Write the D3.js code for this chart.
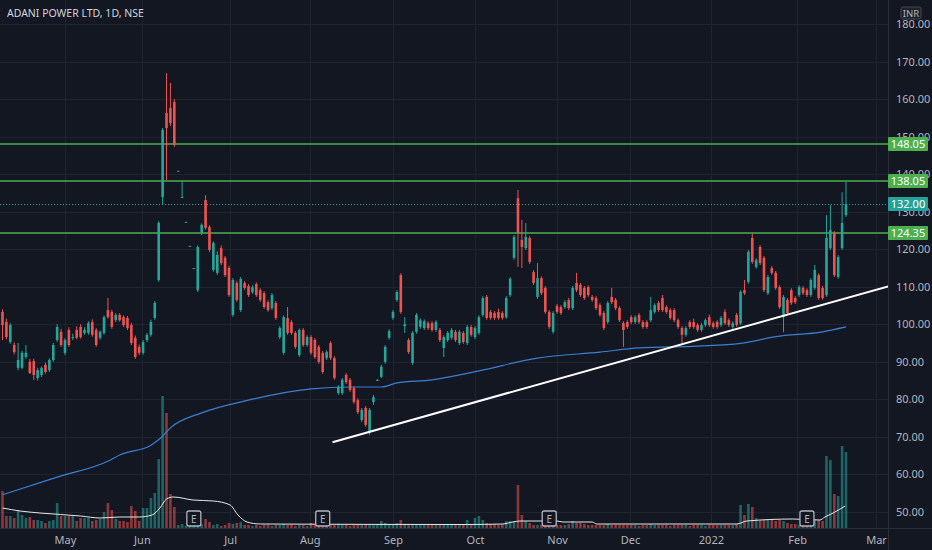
<!DOCTYPE html>
<html>
<head>
<meta charset="utf-8">
<script src="https://cdn.jsdelivr.net/npm/d3@7"></script>
<style>
  html, body { margin: 0; padding: 0; background: #131722; }
  svg { display: block; font-family: "Noto Sans", sans-serif; }
</style>
</head>
<body>
<svg id="chart" width="932" height="550"></svg>
<script>
// Tageskerzen [open, high, low, close]
const ohlc = [
  [103.3,104.0,95.8,99.8],[100.6,101.5,96.0,96.6],[95.3,100.3,94.8,99.8],[94.5,95.2,92.0,92.6],
  [88.4,95.0,87.8,90.5],[88.4,92.9,88.0,92.4],[91.3,94.5,90.8,92.4],[90.0,90.8,86.8,87.0],
  [90.2,90.8,85.2,86.5],[85.7,88.4,85.0,87.8],[86.5,88.8,86.0,88.4],[89.2,89.8,86.9,87.3],
  [87.8,90.9,87.3,90.5],[90.5,95.0,90.0,94.5],[95.8,100.0,95.3,99.3],[98.0,98.8,94.0,94.5],
  [92.4,96.3,91.8,95.8],[98.5,99.2,94.0,94.5],[96.4,97.5,95.8,96.6],[98.5,99.5,96.0,96.4],
  [99.3,100.0,96.2,96.6],[97.7,99.2,97.2,98.5],[97.7,100.8,97.2,100.3],[100.6,101.3,96.7,97.2],
  [98.5,99.0,94.0,94.5],[96.4,98.4,95.9,98.0],[97.7,102.4,97.2,101.9],[103.8,107.0,101.5,101.9],
  [103.3,103.9,98.8,99.3],[101.1,103.0,100.6,102.5],[102.5,103.0,100.7,101.1],[101.9,102.4,99.3,99.8],
  [101.7,102.2,98.5,99.0],[99.8,100.4,94.5,95.0],[96.4,97.0,90.8,91.3],[94.0,94.6,91.8,92.4],
  [92.4,95.8,91.9,95.3],[95.8,97.7,95.3,97.2],[97.2,101.2,96.7,100.6],[101.7,106.2,101.2,105.7],
  [111.8,127.5,111.3,127.0],[133.9,152.3,131.8,151.8],[156.3,166.9,138.4,152.3],[157.6,164.3,152.8,153.6],
  [159.2,160.0,147.2,147.8],[140.9,140.9,140.9,140.9],[133.9,137.9,133.9,133.9],[127.3,127.3,127.3,127.3],
  [120.9,120.9,120.9,120.9],[115.0,115.0,115.0,115.0],[109.1,121.0,108.6,120.6],[124.3,126.9,123.8,126.5],
  [133.1,134.4,125.2,125.7],[125.9,126.4,119.3,119.8],[114.5,122.1,114.0,121.7],[113.7,119.5,113.2,118.5],
  [120.3,121.0,115.8,116.3],[117.7,118.2,112.6,113.1],[115.0,115.6,107.3,107.8],[102.5,112.3,102.0,111.8],
  [111.0,111.6,106.0,106.5],[103.8,112.6,103.3,112.1],[111.0,111.5,109.2,109.7],[110.2,110.7,107.3,107.8],
  [108.6,110.4,108.1,109.9],[110.7,111.2,107.3,107.8],[109.1,109.6,106.0,106.5],[108.3,108.8,104.1,104.6],
  [105.9,106.4,103.3,103.8],[104.3,108.3,103.8,107.8],[105.7,106.2,101.2,101.7],[96.6,99.5,96.1,99.0],
  [92.4,102.4,91.9,101.9],[101.7,104.6,97.2,97.7],[100.6,101.1,97.2,97.7],[97.7,98.2,93.5,94.0],
  [91.8,98.9,91.3,98.5],[98.5,99.0,94.0,94.5],[94.5,97.1,94.0,96.6],[96.6,97.1,91.9,92.4],
  [95.8,96.3,90.8,91.3],[94.0,94.5,89.5,90.0],[92.4,92.9,86.8,87.3],[91.0,93.1,90.5,92.6],
  [95.0,95.5,90.5,91.0],[91.0,91.5,85.2,85.7],[81.7,83.8,81.2,83.3],[81.7,85.7,81.2,85.2],
  [86.5,87.0,84.1,84.6],[85.2,85.7,82.0,82.5],[83.0,83.5,78.8,79.3],[79.8,80.3,76.1,76.6],
  [74.5,77.7,74.0,77.2],[77.7,78.2,72.7,73.2],[71.3,77.7,70.5,77.2],[79.3,81.2,78.5,80.6],
  [85.2,85.4,85.0,85.2],[86.0,89.2,85.7,88.7],[90.0,94.5,89.5,94.0],[96.4,98.7,95.9,98.2],
  [101.7,103.8,101.2,103.3],[106.5,109.1,106.0,108.6],[113.1,113.6,102.8,103.3],[99.5,101.9,97.7,100.0],
  [95.8,96.3,92.1,92.6],[89.7,98.2,89.2,97.7],[98.0,103.0,97.5,102.5],[99.3,101.6,98.8,101.1],
  [99.0,101.3,98.5,100.8],[100.3,100.8,98.5,99.0],[100.3,100.8,98.0,98.5],[98.5,101.1,98.0,100.6],
  [98.5,99.0,95.3,95.8],[93.7,97.1,91.3,96.6],[95.8,98.2,95.3,97.7],[96.4,99.0,95.9,98.5],
  [98.0,98.5,95.3,95.8],[95.0,98.5,94.5,98.0],[97.7,98.2,94.8,95.3],[95.0,99.8,94.5,99.3],
  [99.3,99.8,96.7,97.2],[96.6,99.5,96.1,99.0],[97.7,102.4,97.2,101.9],[102.5,107.5,102.0,107.0],
  [107.3,107.8,101.2,101.7],[103.3,103.8,101.2,101.7],[103.0,103.5,101.2,101.7],[103.3,104.2,101.2,101.7],
  [103.0,103.5,101.2,101.7],[101.9,107.5,101.4,107.0],[107.8,112.6,107.3,112.1],[117.7,123.8,117.2,123.3],
  [133.6,135.8,115.3,124.3],[122.5,127.8,115.0,120.6],[120.3,127.0,119.8,123.3],[123.0,123.5,116.1,116.6],
  [113.9,114.4,110.5,111.0],[107.3,116.3,106.8,112.3],[112.3,112.8,107.8,108.3],[109.7,110.2,102.8,103.3],
  [103.3,103.8,98.8,99.3],[98.0,103.5,97.5,103.0],[104.9,105.4,102.8,103.3],[104.6,105.1,102.5,103.0],
  [104.6,106.4,104.1,105.9],[106.5,107.0,103.8,104.3],[104.3,110.2,103.8,109.7],[111.0,113.7,108.6,109.1],
  [110.5,111.0,107.3,107.8],[109.7,110.2,106.5,107.0],[109.9,110.4,107.3,107.8],[107.3,107.8,106.0,106.5],
  [107.0,107.5,103.8,104.3],[105.1,105.6,102.0,102.5],[103.0,103.5,98.5,99.0],[100.6,106.2,100.1,105.7],
  [107.3,109.7,105.4,105.9],[106.5,107.0,103.8,104.3],[104.3,104.8,100.6,101.1],[100.3,100.8,94.0,98.5],
  [100.6,101.1,98.8,99.3],[101.9,102.4,100.1,100.6],[100.6,102.4,100.1,101.9],[102.5,103.0,100.1,100.6],
  [100.6,101.1,98.8,99.3],[100.6,101.1,98.8,99.3],[101.1,107.3,100.6,103.8],[103.3,105.6,102.8,105.1],
  [105.7,106.2,103.3,103.8],[107.0,107.8,103.3,103.8],[104.6,105.1,102.8,103.3],[103.8,104.3,101.2,101.7],
  [103.8,104.3,100.6,101.1],[101.1,101.6,98.8,99.3],[99.0,99.5,95.0,97.2],[97.2,99.5,96.7,99.0],
  [100.6,101.1,98.8,99.3],[100.6,101.5,98.8,99.3],[99.8,100.3,98.0,98.5],[98.5,100.3,98.0,99.8],
  [99.8,101.6,99.3,101.1],[101.9,102.6,99.3,99.8],[100.3,100.8,98.8,99.3],[100.6,101.1,98.8,99.3],
  [99.8,102.2,99.3,101.7],[103.3,104.0,99.8,100.3],[101.1,101.6,99.3,99.8],[99.3,100.8,98.8,100.3],
  [102.5,103.0,99.3,99.8],[100.3,109.1,99.8,108.6],[109.1,111.8,107.8,108.3],[111.3,119.8,110.8,119.3],
  [123.0,124.3,116.1,116.6],[115.3,117.6,114.8,117.1],[120.6,121.1,115.8,116.3],[117.7,118.2,108.6,109.1],
  [108.3,113.1,107.8,112.6],[115.0,115.5,113.2,113.7],[113.7,114.2,109.2,109.7],[109.9,110.4,104.1,104.6],
  [101.9,107.8,97.9,107.3],[106.5,107.0,102.5,103.0],[109.1,109.6,105.2,105.7],[107.0,107.5,105.4,105.9],
  [107.8,110.4,107.3,109.9],[109.7,110.2,107.8,108.3],[109.1,109.6,107.3,107.8],[107.8,112.3,107.3,111.8],
  [109.7,115.8,109.2,114.5],[113.1,113.6,106.5,107.0],[109.7,110.2,106.5,107.0],[107.8,129.1,107.3,123.0],
  [120.3,131.8,119.8,125.1],[124.3,124.8,112.6,113.1],[112.6,118.4,112.1,117.9],[120.3,135.2,119.8,127.0],
  [129.1,138.0,128.6,132.0]
];

// Volumen (relative Einheiten)
const volume = [
  37,12,12,10,18,13,10,11,8,8,7,5,7,8,25,12,12,12,12,7,10,10,10,7,8,9,16,25,18,9,7,7,6,22,17,7,
  20,20,30,35,69,132,115,34,21,3,4,2,2,3,6,4,9,6,3,4,2,3,5,4,5,6,
  3,3,2,3,2,3,3,2,3,3,4,3,3,2,3,3,2,5,
  3,3,2,3,3,3,4,3,3,2,3,3,3,4,3,3,4,
  7,5,4,4,5,8,4,3,4,3,3,3,3,3,3,3,4,3,3,3,4,3,8,3,10,12,8,5,4,4,3,4,7,7,7,43,13,7,5,
  3,3,3,4,3,3,3,3,3,4,7,5,5,4,3,3,3,3,3,4,3,3,3,3,3,
  3,3,2,3,3,4,3,3,3,3,2,3,3,3,3,2,3,3,3,2,3,3,3,3,3,3,3,4,
  23,13,24,21,10,8,8,8,8,7,8,7,5,4,4,3,3,3,3,8,8,7,72,68,34,32,82,76
];

// Gleitender Durchschnitt (blau) als [Kerzenindex, Kurs]
const maPoints = [
  [0,54.6],[14,59.3],[27.5,63.8],[30,65.2],[38,67.8],[40.5,69.7],[43,72.4],[51,76.4],[63,79.8],
  [79,82.8],[89,83.3],[97,83.3],[101,84.4],[110,85.2],[122,87.6],[137,91.0],[153,92.6],[163,93.7],
  [178,94.2],[189,94.9],[198,96.7],[210,98.0],[216,99.3]
];

// Volumen-MA (weiss) als [Kerzenindex, Volumen]
const volMaPoints = [
  [0,20],[4.5,17],[9.6,15],[20,12],[25,10],[30,11],[35,11],[38.3,13],[40.3,20],[42,29],[43.7,31],
  [48.8,28],[54,27],[58.3,23],[60.3,13],[62.6,6],[66,4],[119,3.5],[128,4],[130.7,6],[132.5,7],
  [142,7],[143.5,6],[151,6],[152.2,4],[188,4],[190.6,7],[202.4,9],[209.3,8],[210.6,11],[212.7,15],[215.8,22]
];

// Trendlinie [Kerzenindex, Kurs]
const trendLine = [[84.5,68.6],[226.8,110.1]];

// horizontale Marken
const levels = [148.05, 138.05, 124.35];
const lastPrice = 132.00;

const priceTicks = [50,60,70,80,90,100,110,120,130,140,150,160,170,180];
const monthTicks = [
  { i: 16, label: "May" }, { i: 35.7, label: "Jun" }, { i: 58.3, label: "Jul" },
  { i: 78.7, label: "Aug" }, { i: 100, label: "Sep" }, { i: 121, label: "Oct" },
  { i: 142, label: "Nov" }, { i: 160.7, label: "Dec" }, { i: 181.4, label: "2022" },
  { i: 203.5, label: "Feb" }, { i: 223.7, label: "Mar" }
];
const earnings = [49, 82, 140, 206];

const title = "ADANI POWER LTD, 1D, NSE";

// --------------------------------------------------------
const W = 932, H = 550;
const plotRight = 888, plotBottom = 528;
const upColor = "#26a69a", downColor = "#ef5350", levelColor = "#4caf50";
const gridColor = "#1f2330", textColor = "#b2b5be";

const svg = d3.select("#chart");

svg.append("rect")
  .attr("width", W).attr("height", H)
  .attr("fill", "#131722");

const x = d3.scaleLinear().domain([0, ohlc.length - 1]).range([2.5, 846]);
const y = d3.scaleLinear().domain([50, 180]).range([512, 24]);
const yVol = d3.scaleLinear().domain([0, d3.max(volume)]).range([plotBottom, 396]);

// scharfe 1px-Linien
const crisp = v => Math.round(v) + 0.5;

svg.append("clipPath").attr("id", "plot-clip")
  .append("rect").attr("width", plotRight).attr("height", plotBottom);

const plot = svg.append("g").attr("clip-path", "url(#plot-clip)");

// Raster
plot.append("g").selectAll("line")
  .data(priceTicks)
  .enter().append("line")
    .attr("x1", 0).attr("x2", plotRight)
    .attr("y1", d => crisp(y(d))).attr("y2", d => crisp(y(d)))
    .attr("stroke", gridColor).attr("stroke-width", 1);

plot.append("g").selectAll("line")
  .data(monthTicks)
  .enter().append("line")
    .attr("x1", d => crisp(x(d.i))).attr("x2", d => crisp(x(d.i)))
    .attr("y1", 0).attr("y2", plotBottom)
    .attr("stroke", gridColor).attr("stroke-width", 1);

const isUp = d => d[3] >= d[0];

// Volumen
const bw = 2.6;
plot.append("g").selectAll("rect")
  .data(volume)
  .enter().append("rect")
    .attr("x", (d, i) => x(i) - bw / 2)
    .attr("y", d => yVol(d))
    .attr("width", bw)
    .attr("height", d => plotBottom - yVol(d))
    .attr("fill", (d, i) => isUp(ohlc[i]) ? upColor : downColor)
    .attr("opacity", 0.55);

plot.append("path")
  .datum(volMaPoints)
  .attr("fill", "none")
  .attr("stroke", "#e8e8e8")
  .attr("stroke-width", 1)
  .attr("d", d3.line().x(d => x(d[0])).y(d => yVol(d[1])).curve(d3.curveMonotoneX));

// Level-Linien (etwas breiter, damit das Grün sichtbar bleibt)
plot.append("g").selectAll("line")
  .data(levels)
  .enter().append("line")
    .attr("x1", 0).attr("x2", plotRight)
    .attr("y1", d => Math.round(y(d))).attr("y2", d => Math.round(y(d)))
    .attr("stroke", levelColor).attr("stroke-width", 1.4);

plot.append("line")
  .attr("x1", 0).attr("x2", plotRight)
  .attr("y1", crisp(y(lastPrice))).attr("y2", crisp(y(lastPrice)))
  .attr("stroke", upColor).attr("stroke-width", 1)
  .attr("stroke-dasharray", "1,2");

// MA
plot.append("path")
  .datum(maPoints)
  .attr("fill", "none")
  .attr("stroke", "#3a7fd0")
  .attr("stroke-width", 1.2)
  .attr("d", d3.line().x(d => x(d[0])).y(d => y(d[1])).curve(d3.curveMonotoneX));

// Kerzen
const candles = plot.append("g").selectAll("g")
  .data(ohlc)
  .enter().append("g");

candles.append("line")
  .attr("x1", (d, i) => x(i)).attr("x2", (d, i) => x(i))
  .attr("y1", d => y(d[1])).attr("y2", d => y(d[2]))
  .attr("stroke", d => isUp(d) ? upColor : downColor)
  .attr("stroke-width", 1);

candles.append("rect")
  .attr("x", (d, i) => x(i) - bw / 2)
  .attr("y", d => y(Math.max(d[0], d[3])))
  .attr("width", bw)
  .attr("height", d => Math.max(1, Math.abs(y(d[0]) - y(d[3]))))
  .attr("fill", d => isUp(d) ? upColor : downColor);

// Trendlinie
plot.append("line")
  .attr("x1", x(trendLine[0][0])).attr("y1", y(trendLine[0][1]))
  .attr("x2", x(trendLine[1][0])).attr("y2", y(trendLine[1][1]))
  .attr("stroke", "#ffffff").attr("stroke-width", 2);

// Earnings-Marker
const eg = plot.append("g").selectAll("g")
  .data(earnings)
  .enter().append("g")
    .attr("transform", d => `translate(${x(d)},518.5)`);

eg.append("rect")
  .attr("x", -7).attr("y", -7.5)
  .attr("width", 14).attr("height", 15)
  .attr("rx", 2)
  .attr("fill", "#131722")
  .attr("stroke", textColor).attr("stroke-width", 1.3);

eg.append("text")
  .attr("text-anchor", "middle")
  .attr("y", 4)
  .attr("fill", textColor)
  .attr("font-size", "10px")
  .text("E");

// Trennlinien
svg.append("line")
  .attr("x1", plotRight + 0.5).attr("x2", plotRight + 0.5)
  .attr("y1", 0).attr("y2", H)
  .attr("stroke", "#2a2e39");
svg.append("line")
  .attr("x1", 0).attr("x2", W)
  .attr("y1", plotBottom + 0.5).attr("y2", plotBottom + 0.5)
  .attr("stroke", "#2a2e39");

// Preisachse (Labels unter den Preis-Boxen werden wie im Original verdeckt)
const yAxis = svg.append("g")
  .attr("transform", `translate(${plotRight + 8},0)`)
  .call(d3.axisRight(y).tickValues(priceTicks).tickFormat(d3.format(".2f")).tickSize(0));
yAxis.select(".domain").remove();
yAxis.selectAll("text")
  .attr("x", 0)
  .attr("fill", textColor)
  .attr("font-size", "11px")
  .attr("font-family", "Noto Sans, sans-serif");

// Zeitachse
const xAxis = svg.append("g")
  .attr("transform", `translate(0,${plotBottom})`)
  .call(d3.axisBottom(x).tickValues(monthTicks.map(d => d.i))
    .tickFormat((d, i) => monthTicks[i].label).tickSize(0));
xAxis.select(".domain").remove();
xAxis.selectAll("text")
  .attr("y", 8)
  .attr("fill", textColor)
  .attr("font-size", "11px")
  .attr("font-family", "Noto Sans, sans-serif");

// Preis-Labels
const labelData = levels.map(v => ({ v, color: levelColor }))
  .concat([{ v: lastPrice, color: "#22a39a" }]);

const lg = svg.append("g").selectAll("g")
  .data(labelData)
  .enter().append("g")
    .attr("transform", d => `translate(${plotRight},${Math.round(y(d.v))})`);

lg.append("rect")
  .attr("x", 0).attr("y", -7)
  .attr("width", 40).attr("height", 14)
  .attr("rx", 1)
  .attr("fill", d => d.color);

lg.append("text")
  .attr("x", 20).attr("y", 4)
  .attr("text-anchor", "middle")
  .attr("fill", "#ffffff")
  .attr("font-size", "11px")
  .text(d => d.v.toFixed(2));

// INR
svg.append("rect")
  .attr("x", 901).attr("y", 7)
  .attr("width", 20).attr("height", 12)
  .attr("rx", 2)
  .attr("fill", "#1e222d")
  .attr("stroke", "#434651");
svg.append("text")
  .attr("x", 911).attr("y", 16.5)
  .attr("text-anchor", "middle")
  .attr("fill", textColor)
  .attr("font-size", "9.5px")
  .text("INR");

// Titel
svg.append("text")
  .attr("x", 7).attr("y", 17)
  .attr("fill", "#d1d4dc")
  .attr("font-size", "10.5px")
  .text(title);
</script>
</body>
</html>
